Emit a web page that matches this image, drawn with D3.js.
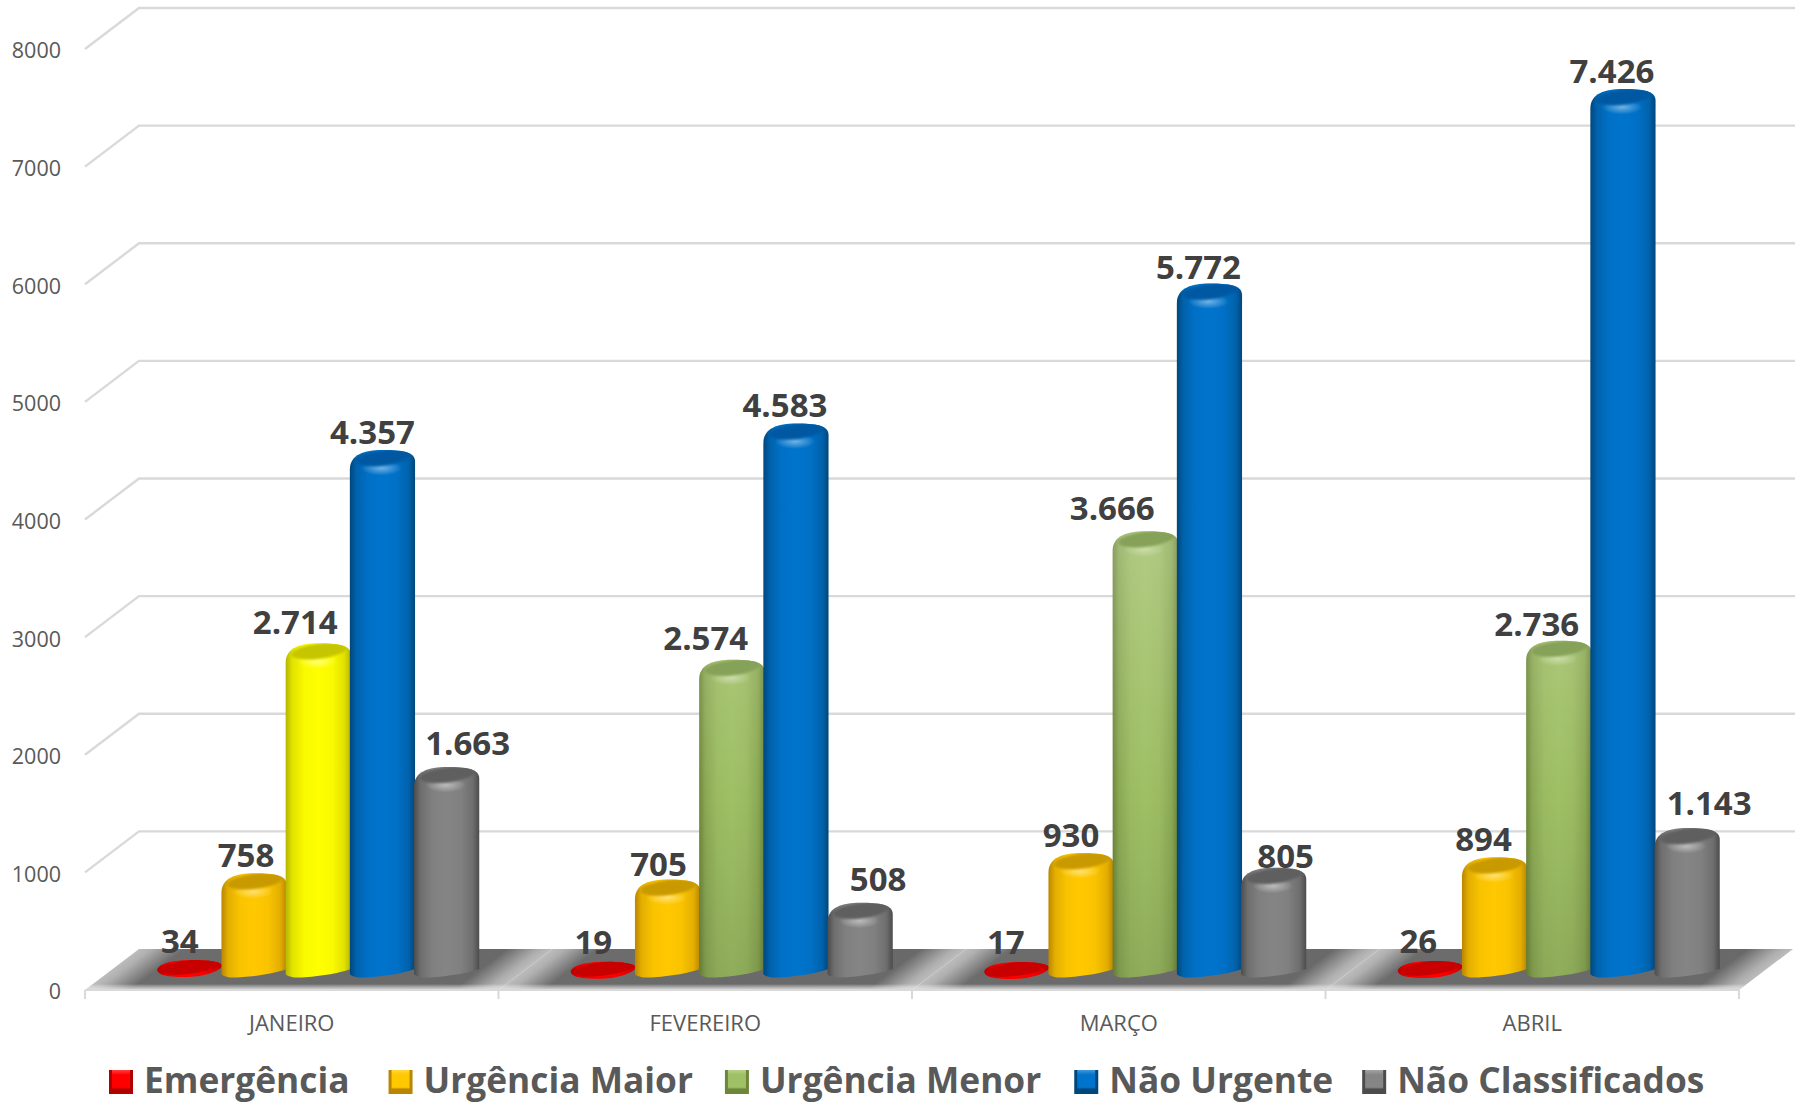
<!DOCTYPE html>
<html><head><meta charset="utf-8">
<script src="https://cdn.jsdelivr.net/npm/d3@7/dist/d3.min.js"></script>
<style>html,body{margin:0;padding:0;background:#fff}svg{display:block}text{font-family:"Open Sans",sans-serif}</style>
</head><body><svg id="c" width="1800" height="1102"></svg>
<script>
const categories = ["JANEIRO","FEVEREIRO","MARÇO","ABRIL"];
const seriesNames = ["Emergência","Urgência Maior","Urgência Menor","Não Urgente","Não Classificados"];
const emergencia = [34,19,17,26];
const urgenciaMaior = [758,705,930,894];
const urgenciaMenor = [2714,2574,3666,2736];
const naoUrgente = [4357,4583,5772,7426];
const naoClassificados = [1663,508,805,1143];
const seriesValues = [emergencia,urgenciaMaior,urgenciaMenor,naoUrgente,naoClassificados];
const yTicks = [0,1000,2000,3000,4000,5000,6000,7000,8000];
// palette: [bright centre, dark edge, top face]
const palettes = {
  red:["#ff0000","#b00000","#c80000"],
  orange:["#ffc800","#b98600","#c99a00"],
  yellow:["#ffff00","#b5b500","#c6c600"],
  green:["#9fc065","#6d873a","#86a158"],
  blue:["#0074cc","#00477c","#0059a2"],
  grey:["#858585","#4c4c4c","#5f5f5f"]
};
const seriesPalette = ["red","orange","green","blue","grey"];
const pointPalette = {"2-0":"yellow"};
// nudges of the hand-placed data labels [dx,dy]
const labelNudge = [
 [[-10,2],[-8,1],[-23,-2],[-10,1],[21,-4]],
 [[-10,1],[-9,4],[-26,-2],[-11,1],[18,-4]],
 [[-11,1],[-10,1],[-33,-4],[-11,3],[12,8]],
 [[-12,1],[-11,1],[-22,3],[-11,1],[22,-6]]
];
const legendGaps = [39,32,33,29];

const svg = d3.select("#c");
const defs = svg.append("defs");
const depthX = 54, depthY = 41;
const xFront = d3.scaleBand().domain(categories).range([85,1739]);
const xMid = d3.scaleBand().domain(categories).range([111.5,1765.5]);
const xInner = d3.scaleBand().domain(d3.range(5)).range([0,321]);
const yFront = d3.scaleLinear().domain([0,8000]).range([990,49]);
const yMid = d3.scaleLinear().domain([0,8000]).range([972,31]);
const bw = xInner.bandwidth();

Object.entries(palettes).forEach(([k,p])=>{
  const mix = d3.interpolateRgb(p[1],p[0]);
  const g = defs.append("linearGradient").attr("id","side-"+k);
  [[0,p[1]],[.1,mix(.6)],[.28,mix(.92)],[.5,p[0]],[.72,mix(.92)],[.9,mix(.6)],[1,p[1]]]
    .forEach(s=>g.append("stop").attr("offset",s[0]).attr("stop-color",s[1]));
  const r = defs.append("radialGradient").attr("id","glow-"+k);
  const hi = d3.interpolateRgb(p[0],"#fff")(.45);
  r.append("stop").attr("offset",0).attr("stop-color",hi).attr("stop-opacity",1);
  r.append("stop").attr("offset",1).attr("stop-color",hi).attr("stop-opacity",0);
  const v = defs.append("linearGradient").attr("id","sw-"+k).attr("x2",0).attr("y2",1);
  [[0,d3.interpolateRgb(p[0],"#fff")(.25)],[.2,p[0]],[.72,p[0]],[.8,p[1]],[1,p[1]]]
    .forEach(s=>v.append("stop").attr("offset",s[0]).attr("stop-color",s[1]));
});
defs.append("filter").attr("id","soft").attr("x","-20%").attr("y","-50%").attr("width","140%").attr("height","200%")
  .append("feGaussianBlur").attr("stdDeviation",1.3);
// the green columns lighten towards the top
const lift = defs.append("linearGradient").attr("id","lift").attr("gradientUnits","userSpaceOnUse")
  .attr("x1",0).attr("x2",0).attr("y1",530).attr("y2",975);
lift.append("stop").attr("offset",0).attr("stop-color","#fff").attr("stop-opacity",.2);
lift.append("stop").attr("offset",.6).attr("stop-color","#fff").attr("stop-opacity",0);
lift.append("stop").attr("offset",.6).attr("stop-color","#000").attr("stop-opacity",0);
lift.append("stop").attr("offset",1).attr("stop-color","#000").attr("stop-opacity",.1);

// back wall gridlines and side wall
const grid = svg.append("g").attr("fill","none").attr("stroke","#d9d9d9").attr("stroke-width",2.4);
yTicks.forEach(t=>{
  if(t===0) return;
  grid.append("path").attr("d",d3.line()([
    [xFront.range()[0],yFront(t)],
    [xFront.range()[0]+depthX,yFront(t)-depthY],
    [xFront.range()[1]+depthX+2,yFront(t)-depthY]
  ]));
});

// floor
const nlen = Math.hypot(depthX,depthY), nx = depthY/nlen, ny = depthX/nlen;
const floorW = xFront.bandwidth(), nd = floorW*nx;
categories.forEach((c,i)=>{
  const x0 = xFront(c), id="floor"+i;
  const g = defs.append("linearGradient").attr("id",id).attr("gradientUnits","userSpaceOnUse")
    .attr("x1",x0).attr("y1",990).attr("x2",x0+nx*nd).attr("y2",990+ny*nd);
  [[0,"#bcbcbc"],[.03,"#b0b0b0"],[.11,"#6c6c6c"],[.89,"#696969"],[.97,"#aeaeae"],[1,"#bcbcbc"]]
    .forEach(s=>g.append("stop").attr("offset",s[0]).attr("stop-color",s[1]));
  svg.append("path").attr("fill",`url(#${id})`).attr("d",d3.line()([
    [x0,990],[x0+floorW,990],[x0+floorW+depthX,990-depthY],[x0+depthX,990-depthY]
  ])+"Z");
});
const fs = defs.append("linearGradient").attr("id","floorEdge").attr("x2",0).attr("y2",1);
fs.append("stop").attr("offset",0).attr("stop-color","#fff").attr("stop-opacity",0);
fs.append("stop").attr("offset",1).attr("stop-color","#ddd").attr("stop-opacity",.95);
svg.append("path").attr("fill","url(#floorEdge)").attr("d",d3.line()([[85,990],[1739,990],[1746,984],[92,984]])+"Z");

// front axis baseline and ticks
svg.append("path").attr("fill","none").attr("stroke","#d9d9d9").attr("stroke-width",2)
  .attr("d",d3.line()([[85,990],[1739,990]]));
svg.append("g").attr("stroke","#d9d9d9").attr("stroke-width",2).selectAll("line")
  .data(categories.map(c=>xFront(c)).concat([xFront.range()[1]])).join("line")
  .attr("x1",d=>d).attr("x2",d=>d).attr("y1",990).attr("y2",999);

// axes labels
const yAxis = svg.append("g").attr("transform","translate(69,2)")
  .call(d3.axisLeft(yFront).tickValues(yTicks).tickSize(0).tickPadding(8).tickFormat(d3.format("d")));
yAxis.select(".domain").remove();
yAxis.selectAll("text").attr("font-size",21.5).attr("fill","#595959").style("font-family","'Open Sans'");
const xAxis = svg.append("g").attr("transform","translate(0,1009)")
  .call(d3.axisBottom(xFront).tickSize(0).tickPadding(6));
xAxis.select(".domain").remove();
xAxis.selectAll("text").attr("font-size",22).attr("fill","#595959").style("font-family","'Open Sans'");

// bars
const fmt = d3.formatLocale({decimal:",",thousands:".",grouping:[3],currency:["",""]}).format(",d");
const items = [];
categories.forEach((c,ci)=>seriesValues.forEach((vals,si)=>items.push({c,ci,si,v:vals[ci]})));
const barG = svg.append("g");
const centre = d=>xMid(d.c)+xMid.bandwidth()/2-160.5+xInner(d.si)+bw/2;
items.forEach((d,n)=>{
  const p = pointPalette[d.si+"-"+d.ci] || seriesPalette[d.si];
  const cx = centre(d);
  const x0 = cx-bw/2-.5, x1 = cx+bw/2+.5, rx = (x1-x0)/2;
  const yT = yMid(d.v), yB = yMid(0), tall = d.v>100;
  const yL = yT+(tall?10:1.5), yR = yT+(tall?2:-3), yA = yT-9.5;
  const yBot = Math.max(yB,yT+1);
  const side = tall
    ? `M${x0},${yL}C${x0},${yL-15},${cx-rx*.55},${yA},${cx},${yA}C${cx+rx*.6},${yA},${x1},${yA+1.5},${x1},${yR}`
      +`L${x1},${yBot-3}C${x1-rx*.5},${yBot+3},${cx-rx*.4},${yBot+6},${x0+rx*.25},${yBot+5.5}C${x0+6},${yBot+5},${x0},${yBot+3.5},${x0},${yBot+2}Z`
    : `M${x0},${yL}C${x0+2},${yT-5},${cx-rx*.5},${yT-8},${cx+3},${yT-8}C${cx+rx*.6},${yT-8},${x1},${yR-3},${x1},${yR+1}`
      +`C${x1-4},${yT+4},${cx+rx*.4},${yT+9},${cx-5},${yT+9}C${x0+8},${yT+9},${x0},${yL+5},${x0},${yL}Z`;
  const g = barG.append("g");
  const clip = "clip"+n;
  defs.append("clipPath").attr("id",clip).append("path").attr("d",side);
  g.append("path").attr("d",side).attr("fill",`url(#side-${p})`);
  if(p==="green") g.append("path").attr("d",side).attr("fill","url(#lift)");
  const inner = g.append("g").attr("clip-path",`url(#${clip})`);
  if(tall) inner.append("ellipse").attr("cx",cx-1).attr("cy",yT+8.5).attr("rx",rx*.62).attr("ry",7.5)
    .attr("fill",`url(#glow-${p})`);
  inner.append("ellipse").attr("cx",cx+(tall?1:0)).attr("cy",tall?yT-1.5:yT-1).attr("rx",rx*(tall?.86:.96)).attr("ry",tall?7.5:6.8)
    .attr("transform",`rotate(-7,${cx},${yT-1.5})`)
    .attr("fill",palettes[p][2]).attr("filter",tall?"url(#soft)":null);
});
const labelG = svg.append("g").attr("font-size",33).attr("font-weight",700).attr("fill","#404040").attr("text-anchor","middle");
items.forEach(d=>{
  const nudge = labelNudge[d.ci][d.si];
  labelG.append("text").attr("x",centre(d)+nudge[0]).attr("y",yMid(d.v)-17+nudge[1]).text(fmt(d.v));
});

// legend
const legend = svg.append("g").attr("font-size",35.3).attr("font-weight",700).attr("fill","#595959");
let lx = 109;
seriesNames.forEach((name,i)=>{
  const p = seriesPalette[i];
  const g = legend.append("g").attr("transform",`translate(${lx},0)`);
  g.append("rect").attr("y",1070).attr("width",24).attr("height",24).attr("fill",palettes[p][1]);
  g.append("rect").attr("x",3).attr("y",1070).attr("width",18).attr("height",24).attr("fill",`url(#sw-${p})`);
  const t = g.append("text").attr("x",35).attr("y",1093).text(name);
  lx += 35 + t.node().getComputedTextLength() + (legendGaps[i]||0);
});
</script></body></html>
